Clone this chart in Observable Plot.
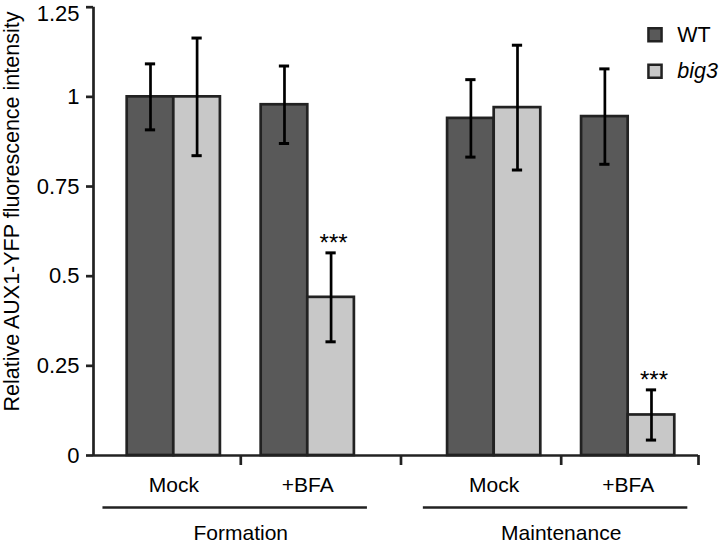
<!DOCTYPE html>
<html>
<head>
<meta charset="utf-8">
<script src="https://cdn.jsdelivr.net/npm/d3@7"></script>
<script src="https://cdn.jsdelivr.net/npm/@observablehq/plot@0.6"></script>
<style>
  html, body { margin: 0; padding: 0; background: #fff; }
  #chart svg { display: block; }
</style>
</head>
<body>
<div id="chart"></div>
<script>
// ---- data ----
const experiments = ["Formation", "Maintenance"];
const treatments = ["Mock", "+BFA"];
const genotypes = ["WT", "big3"];
// order: Formation-Mock, Formation-+BFA, Maintenance-Mock, Maintenance-+BFA
const wtMean = [1.00, 0.978, 0.940, 0.945];
const wtErr = [0.092, 0.108, 0.108, 0.133];
const big3Mean = [1.00, 0.441, 0.970, 0.113];
const big3Err = [0.164, 0.124, 0.174, 0.070];
const significance = ["", "***", "", "***"];
const yTicks = [0, 0.25, 0.5, 0.75, 1, 1.25];
const yLabel = "Relative AUX1-YFP fluorescence intensity";

// ---- layout (in bar-width units) ----
const SPACER = 0.875, GROUP_GAP = 2.0;
const treatStep = 2 + SPACER;
const expStep = 2 * 2 + SPACER + GROUP_GAP;
const xDomain = [-0.723, 12.259];

const rows = [];
experiments.forEach((e, ei) => treatments.forEach((t, ti) => genotypes.forEach((g, gi) => {
  const k = ei * 2 + ti;
  const left = ei * expStep + ti * treatStep + gi;
  rows.push({
    experiment: e, treatment: t, genotype: g,
    mean: gi === 0 ? wtMean[k] : big3Mean[k],
    err: gi === 0 ? wtErr[k] : big3Err[k],
    sig: gi === 1 ? significance[k] : "",
    x1: left, x2: left + 1, xc: left + 0.5
  });
})));
const treatLabels = [];
experiments.forEach((e, ei) => treatments.forEach((t, ti) => {
  treatLabels.push({label: t, x: ei * expStep + ti * treatStep + 1});
}));
const expLabels = experiments.map((e, ei) => ({
  label: e, x: ei * expStep + (2 * 2 + SPACER) / 2,
  x1: ei * expStep - 0.52, x2: ei * expStep + 2 * 2 + SPACER + 0.28
}));
const xBoundaries = [
  ...experiments.map((e, ei) => ei * expStep + 2 + SPACER / 2),
  2 * 2 + SPACER + GROUP_GAP / 2,
  xDomain[1]
];

const colors = {WT: "#595959", big3: "#c8c8c8"};
const FONT = "'Liberation Sans', Arial, Helvetica, sans-serif";
const SW = 2.7;
const capHalf = 0.11;
const yMax = yTicks[yTicks.length - 1];

const legendMarks = genotypes.flatMap((g, i) => [
  Plot.dot([g], {frameAnchor: "top-right", dx: -43.5, dy: 27.5 + i * 36.6,
    symbol: "square", r: 7.4, fill: colors[g], stroke: "#222", strokeWidth: 2.5}),
  Plot.text([g], {frameAnchor: "top-right", dx: -21.3, dy: 27.5 + i * 36.6,
    text: d => d, textAnchor: "start", lineAnchor: "middle", fontSize: 21.5,
    fontStyle: g === "big3" ? "italic" : "normal", fill: "#000"})
]);

const tickLabelOpts = {x: xDomain[0], y: d => d, text: d => String(d), textAnchor: "end",
  lineAnchor: "middle", dx: -14, fontSize: 22, fill: "#000"};

const chart = Plot.plot({
  width: 721, height: 543,
  marginLeft: 93, marginRight: 23, marginTop: 6.7, marginBottom: 88,
  style: {fontFamily: FONT, background: "#fff", color: "#000", overflow: "visible"},
  x: {type: "linear", domain: xDomain, axis: null},
  y: {domain: [0, yMax], axis: null},
  marks: [
    Plot.rectY(rows, {x1: "x1", x2: "x2", y: "mean", fill: d => colors[d.genotype], stroke: "#222", strokeWidth: SW}),
    Plot.ruleX(rows, {x: "xc", y1: d => d.mean - d.err, y2: d => d.mean + d.err, stroke: "#000", strokeWidth: SW}),
    Plot.ruleY(rows, {y: d => d.mean + d.err, x1: d => d.xc - capHalf, x2: d => d.xc + capHalf, stroke: "#000", strokeWidth: 3}),
    Plot.ruleY(rows, {y: d => d.mean - d.err, x1: d => d.xc - capHalf, x2: d => d.xc + capHalf, stroke: "#000", strokeWidth: 3}),
    Plot.text(rows.filter(d => d.sig), {x: "xc", y: d => d.mean + d.err, text: "sig", dy: -2, dx: 2.5,
      lineAnchor: "bottom", fontSize: 24, fill: "#000", style: "letter-spacing:5px"}),
    // axes
    Plot.ruleX([xDomain[0]], {y1: 0, y2: yMax, stroke: "#222", strokeWidth: SW}),
    Plot.ruleY([0], {stroke: "#222", strokeWidth: SW}),
    Plot.axisY({ticks: yTicks, tickFormat: () => "", tickSize: 7, strokeWidth: SW, stroke: "#222", label: null}),
    Plot.text(yTicks.filter(d => d !== yMax), tickLabelOpts),
    Plot.text([yMax], {...tickLabelOpts, dy: 7}),
    Plot.axisX({ticks: xBoundaries, tickFormat: () => "", tickSize: 10, strokeWidth: SW, stroke: "#222", label: null}),
    Plot.text(treatLabels, {x: "x", y: 0, text: "label", dy: 30, lineAnchor: "middle", fontSize: 21, fill: "#000"}),
    Plot.ruleY(expLabels, {y: 0, x1: "x1", x2: "x2", dy: 52, stroke: "#222", strokeWidth: SW}),
    Plot.text(expLabels, {x: "x", y: 0, text: "label", dy: 78, lineAnchor: "middle", fontSize: 21, fill: "#000"}),
    Plot.text([yLabel], {frameAnchor: "left", dx: -81, dy: -19.8, rotate: -90, text: d => d,
      textAnchor: "middle", lineAnchor: "middle", fontSize: 21.5, fill: "#000"}),
    ...legendMarks
  ]
});
document.getElementById("chart").appendChild(chart);
</script>
</body>
</html>
